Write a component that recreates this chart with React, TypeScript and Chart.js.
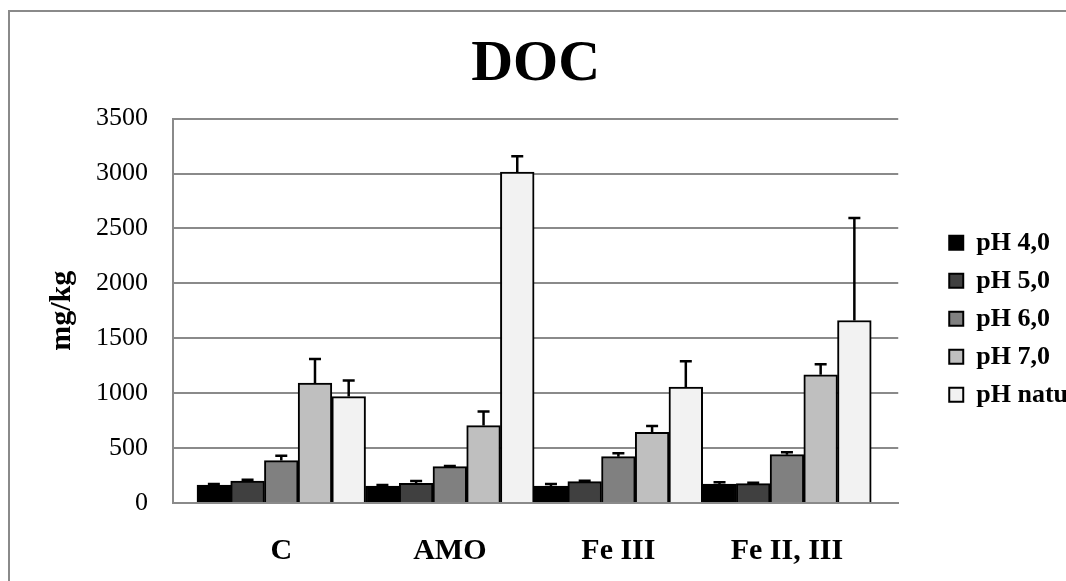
import React, { useEffect, useRef } from "react";
import { Chart, registerables } from "chart.js";

Chart.register(...registerables);

const categories = ["C", "AMO", "Fe III", "Fe II, III"];
const seriesNames = ["pH 4,0", "pH 5,0", "pH 6,0", "pH 7,0", "pH natu"];
const ph4 = [164, 155, 155, 173];
const ph5 = [200, 180, 194, 176];
const ph6 = [386, 331, 422, 440];
const ph7 = [1091, 705, 644, 1167];
const phNat = [969, 3014, 1055, 1662];
const ph4Err = [10, 8, 18, 16];
const ph5Err = [12, 20, 8, 9];
const ph6Err = [45, 6, 31, 22];
const ph7Err = [221, 127, 58, 97];
const phNatErr = [146, 143, 236, 933];
const colors = ["#000000", "#404040", "#808080", "#bfbfbf", "#f2f2f2"];
const yTicks = [0, 500, 1000, 1500, 2000, 2500, 3000, 3500];

const seriesValues = [ph4, ph5, ph6, ph7, phNat];
const seriesErrors = [ph4Err, ph5Err, ph6Err, ph7Err, phNatErr];

const FONT = "'Liberation Serif', 'Times New Roman', serif";
const GRID = "#8a8a8a";

const errorBarPlugin = {
  id: "errorBars",
  afterDatasetsDraw(chart: any) {
    const { ctx } = chart;
    const yScale = chart.scales.y;
    ctx.save();
    ctx.strokeStyle = "#000";
    ctx.lineWidth = 2.5;
    chart.data.datasets.forEach((ds: any, di: number) => {
      const meta = chart.getDatasetMeta(di);
      meta.data.forEach((bar: any, i: number) => {
        const v = seriesValues[di][i];
        const e = seriesErrors[di][i];
        const yTop = yScale.getPixelForValue(v + e);
        const yBar = yScale.getPixelForValue(v);
        ctx.beginPath();
        ctx.moveTo(bar.x, yBar);
        ctx.lineTo(bar.x, yTop);
        ctx.moveTo(bar.x - 6, yTop);
        ctx.lineTo(bar.x + 6, yTop);
        ctx.stroke();
      });
    });
    ctx.restore();
  },
};

export default function App() {
  const canvasRef = useRef<HTMLCanvasElement | null>(null);

  useEffect(() => {
    const canvas = canvasRef.current;
    if (!canvas) return;
    const chart = new Chart(canvas, {
      type: "bar",
      data: {
        datasets: seriesNames.map((name, di) => ({
          label: name,
          data: categories.map((_, i) => ({ x: i, y: seriesValues[di][i] })),
          backgroundColor: colors[di],
          borderColor: "#000",
          borderWidth: 2,
          categoryPercentage: 1,
          barPercentage: 1,
        })),
      },
      options: {
        responsive: false,
        animation: false,
        layout: { padding: { left: 0, right: 2, top: 0, bottom: 0 } },
        plugins: {
          title: {
            display: true,
            fullSize: false,
            text: "DOC",
            color: "#000",
            font: { family: FONT, size: 58, weight: "bold", lineHeight: 1.2 },
            padding: { top: 18, bottom: 19 },
          },
          legend: {
            position: "right",
            fullSize: false,
            title: {
              display: true,
              text: "",
              font: { family: FONT, size: 10, lineHeight: 1.2 },
              padding: 2,
            },
            labels: {
              color: "#000",
              font: { family: FONT, size: 26, weight: "bold" },
              boxWidth: 14,
              boxHeight: 14,
              padding: 12,
            },
          },
          tooltip: { enabled: false },
        },
        scales: {
          x: {
            type: "linear",
            min: -0.6424,
            max: 3.6603,
            offset: false,
            grid: { display: false, offset: false },
            border: { display: true, color: GRID, width: 2 },
            afterBuildTicks: (scale: any) => {
              scale.ticks = categories.map((_, i) => ({ value: i }));
            },
            afterFit: (scale: any) => {
              scale.height = 78;
            },
            ticks: {
              autoSkip: false,
              maxRotation: 0,
              padding: 22,
              color: "#000",
              font: { family: FONT, size: 30, weight: "bold" },
              callback: (value: any) => categories[Number(value)] ?? "",
            },
          },
          y: {
            min: 0,
            max: 3500,
            afterBuildTicks: (scale: any) => {
              scale.ticks = yTicks.map((v) => ({ value: v }));
            },
            afterFit: (scale: any) => {
              scale.width = 163;
            },
            grid: { color: GRID, lineWidth: 2, drawTicks: false },
            border: { display: true, color: GRID, width: 2 },
            ticks: {
              padding: 25,
              color: "#000",
              font: { family: FONT, size: 26 },
              callback: (value: any) => String(value),
            },
            title: {
              display: true,
              text: "mg/kg",
              color: "#000",
              font: { family: FONT, size: 30, weight: "bold", lineHeight: 1.2 },
              padding: { top: 34, bottom: 0 },
            },
          },
          gap: {
            type: "linear",
            position: "right",
            display: true,
            grid: { display: false },
            border: { display: false },
            ticks: { display: false },
            afterFit: (scale: any) => {
              scale.width = 39;
            },
          },
        },
      } as any,
      plugins: [errorBarPlugin],
    });
    return () => chart.destroy();
  }, []);

  return (
    <div
      style={{
        position: "fixed",
        left: 8,
        top: 10,
        width: 1058,
        height: 571,
        borderTop: "2px solid #8a8a8a",
        borderLeft: "2px solid #8a8a8a",
        boxSizing: "border-box",
        overflow: "hidden",
        background: "#fff",
      }}
    >
      <canvas
        ref={canvasRef}
        width={1070}
        height={569}
        style={{ display: "block", width: 1070, height: 569 }}
      />
    </div>
  );
}
